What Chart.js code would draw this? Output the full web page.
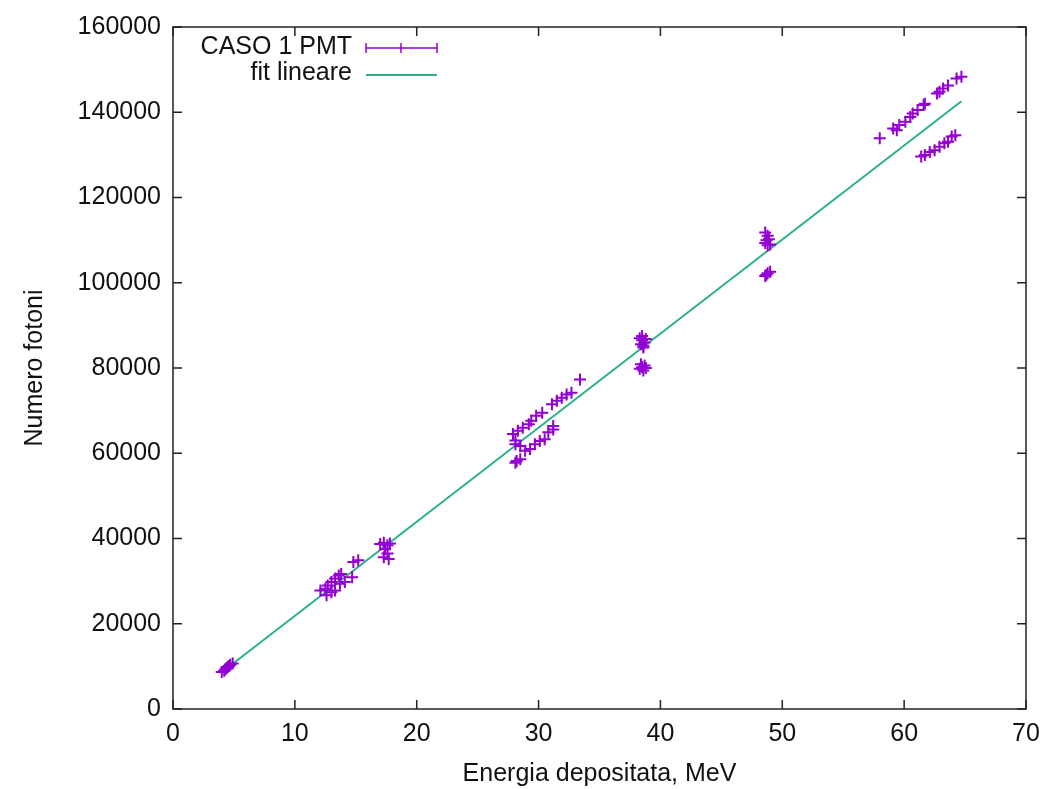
<!DOCTYPE html>
<html>
<head>
<meta charset="utf-8">
<title>Numero fotoni vs energia depositata</title>
<script src="https://cdn.jsdelivr.net/npm/chart.js@4.4.1/dist/chart.umd.min.js"></script>
<style>
  html, body { margin: 0; padding: 0; background: #ffffff; }
  #grafico { display: block; }
</style>
</head>
<body>
<canvas id="grafico" width="1052" height="789"></canvas>
<script>
// CASO 1 PMT: energia depositata (MeV) e numero di fotoni raccolti
const caso1Energia = [
    4.0, 4.2, 4.3, 4.4, 4.5, 4.6, 4.7, 4.9,
    12.1, 12.5, 12.7, 13.0, 13.3, 13.6, 13.8, 12.6, 13.0, 13.3, 13.7, 14.1, 14.7, 14.8, 15.2,
    17.0, 17.3, 17.6, 17.8, 17.4, 17.6, 17.3, 17.7,
    27.9, 28.3, 28.7, 29.2, 29.4, 29.8, 30.3, 31.1, 31.5, 31.9, 32.3, 32.7, 33.4,
    28.1, 28.5, 28.9, 29.3, 29.7, 30.1, 30.5, 30.8, 31.2, 31.2, 28.2, 28.5, 28.1, 28.1,
    38.3, 38.5, 38.7, 38.4, 38.6, 38.8, 38.5, 38.6,
    38.3, 38.5, 38.7, 38.6, 38.4, 38.8,
    48.6, 48.8, 48.9, 48.6, 48.8, 49.0, 48.7,
    48.6, 48.8, 49.0, 48.7,
    58.0, 59.1, 59.4, 59.6, 60.1, 60.5, 60.7, 61.1, 61.6, 61.7, 62.7, 62.9, 63.2, 63.6, 64.3, 64.7,
    61.4, 61.7, 62.1, 62.5, 62.9, 63.3, 63.6, 63.9, 64.2
];
const caso1Fotoni = [
    8700, 9000, 9300, 9600, 9900, 10100, 10400, 10700,
    27800, 28200, 29000, 29800, 30600, 31300, 31700, 26700, 27400, 27800, 29400, 29800, 30900, 34500, 34900,
    38700, 39000, 38400, 38800, 37500, 36500, 35600, 35200,
    64500, 65300, 66000, 66800, 67600, 68800, 69500, 71500, 72300, 73000, 73800, 74200, 77300,
    62100, 61700, 60600, 61000, 62100, 62900, 63300, 64900, 65600, 66400, 58200, 58600, 57800, 63000,
    87000, 86500, 86000, 85600, 85200, 86800, 87500, 84800,
    79800, 80200, 80600, 79400, 80900, 80000,
    111800, 111000, 110200, 109300, 108800, 109000, 110000,
    101600, 102200, 102600, 101900,
    133900, 136200, 135800, 137000, 137800, 138900, 139700, 140500, 141700, 142000, 144400, 144800, 145600, 146300, 147900, 148300,
    129600, 130000, 130700, 131100, 131900, 132700, 133100, 134300, 134600
];

// estremi del fit lineare
const fitEnergia = [4.4, 64.7];
const fitFotoni = [9500, 142600];

// assi
const tickEnergia = [0, 10, 20, 30, 40, 50, 60, 70];
const tickFotoni = [0, 20000, 40000, 60000, 80000, 100000, 120000, 140000, 160000];

const coloreDati = '#9400d3';
const coloreFit = '#2bb08b';
const font = "'Liberation Sans', Arial, Helvetica, sans-serif";

// cornice con tacche interne su tutti i lati + legenda stile gnuplot
const cornicePlugin = {
    id: 'cornice',
    afterDraw(chart) {
        const ctx = chart.ctx;
        const a = chart.chartArea;
        const sx = chart.scales.x;
        const sy = chart.scales.y;
        const lung = 9;

        ctx.save();
        ctx.strokeStyle = '#222';
        ctx.lineWidth = 1.5;
        ctx.strokeRect(a.left, a.top, a.right - a.left, a.bottom - a.top);

        ctx.beginPath();
        tickEnergia.forEach(v => {
            const px = sx.getPixelForValue(v);
            ctx.moveTo(px, a.bottom); ctx.lineTo(px, a.bottom - lung);
            ctx.moveTo(px, a.top); ctx.lineTo(px, a.top + lung);
        });
        tickFotoni.forEach(v => {
            const py = sy.getPixelForValue(v);
            ctx.moveTo(a.left, py); ctx.lineTo(a.left + lung, py);
            ctx.moveTo(a.right, py); ctx.lineTo(a.right - lung, py);
        });
        ctx.stroke();

        // legenda
        ctx.font = '25px ' + font;
        ctx.fillStyle = '#111';
        ctx.textAlign = 'right';
        ctx.textBaseline = 'middle';
        ctx.fillText('CASO 1 PMT', 352, 47);
        ctx.fillText('fit lineare', 352, 73);

        ctx.strokeStyle = coloreDati;
        ctx.lineWidth = 1.5;
        ctx.beginPath();
        ctx.moveTo(366, 48); ctx.lineTo(437, 48);
        [366, 401, 437].forEach(x => { ctx.moveTo(x, 43); ctx.lineTo(x, 53); });
        ctx.stroke();

        ctx.strokeStyle = coloreFit;
        ctx.lineWidth = 2;
        ctx.beginPath();
        ctx.moveTo(366, 75); ctx.lineTo(437, 75);
        ctx.stroke();
        ctx.restore();
    }
};

new Chart(document.getElementById('grafico'), {
    type: 'scatter',
    data: {
        datasets: [
            {
                label: 'CASO 1 PMT',
                data: caso1Energia.map((e, i) => ({ x: e, y: caso1Fotoni[i] })),
                pointStyle: 'cross',
                pointRadius: 6,
                pointBorderWidth: 2,
                borderColor: coloreDati,
                backgroundColor: coloreDati,
                order: 1
            },
            {
                label: 'fit lineare',
                type: 'line',
                data: fitEnergia.map((e, i) => ({ x: e, y: fitFotoni[i] })),
                borderColor: coloreFit,
                borderWidth: 2,
                pointRadius: 0,
                fill: false,
                order: 2
            }
        ]
    },
    options: {
        responsive: false,
        animation: false,
        layout: { padding: { top: 25, right: 26, left: 0, bottom: 0 } },
        plugins: {
            legend: { display: false },
            tooltip: { enabled: false }
        },
        scales: {
            x: {
                type: 'linear',
                min: 0,
                max: 70,
                afterFit: s => { s.height = 80; },
                afterBuildTicks: s => { s.ticks = tickEnergia.map(v => ({ value: v })); },
                grid: { display: false, drawTicks: false },
                border: { display: false },
                ticks: {
                    color: '#111',
                    padding: 10,
                    maxRotation: 0,
                    font: { family: font, size: 25 }
                },
                title: {
                    display: true,
                    text: 'Energia depositata, MeV',
                    color: '#111',
                    padding: { top: 2, bottom: 0 },
                    font: { family: font, size: 25 }
                }
            },
            y: {
                type: 'linear',
                min: 0,
                max: 160000,
                afterFit: s => { s.width = 173; },
                afterBuildTicks: s => { s.ticks = tickFotoni.map(v => ({ value: v })); },
                grid: { display: false, drawTicks: false },
                border: { display: false },
                ticks: {
                    color: '#111',
                    padding: 12,
                    font: { family: font, size: 25 },
                    callback: v => String(v)
                },
                title: {
                    display: true,
                    text: 'Numero fotoni',
                    color: '#111',
                    padding: { top: 20, bottom: 0 },
                    font: { family: font, size: 25 }
                }
            }
        }
    },
    plugins: [cornicePlugin]
});
</script>
</body>
</html>
